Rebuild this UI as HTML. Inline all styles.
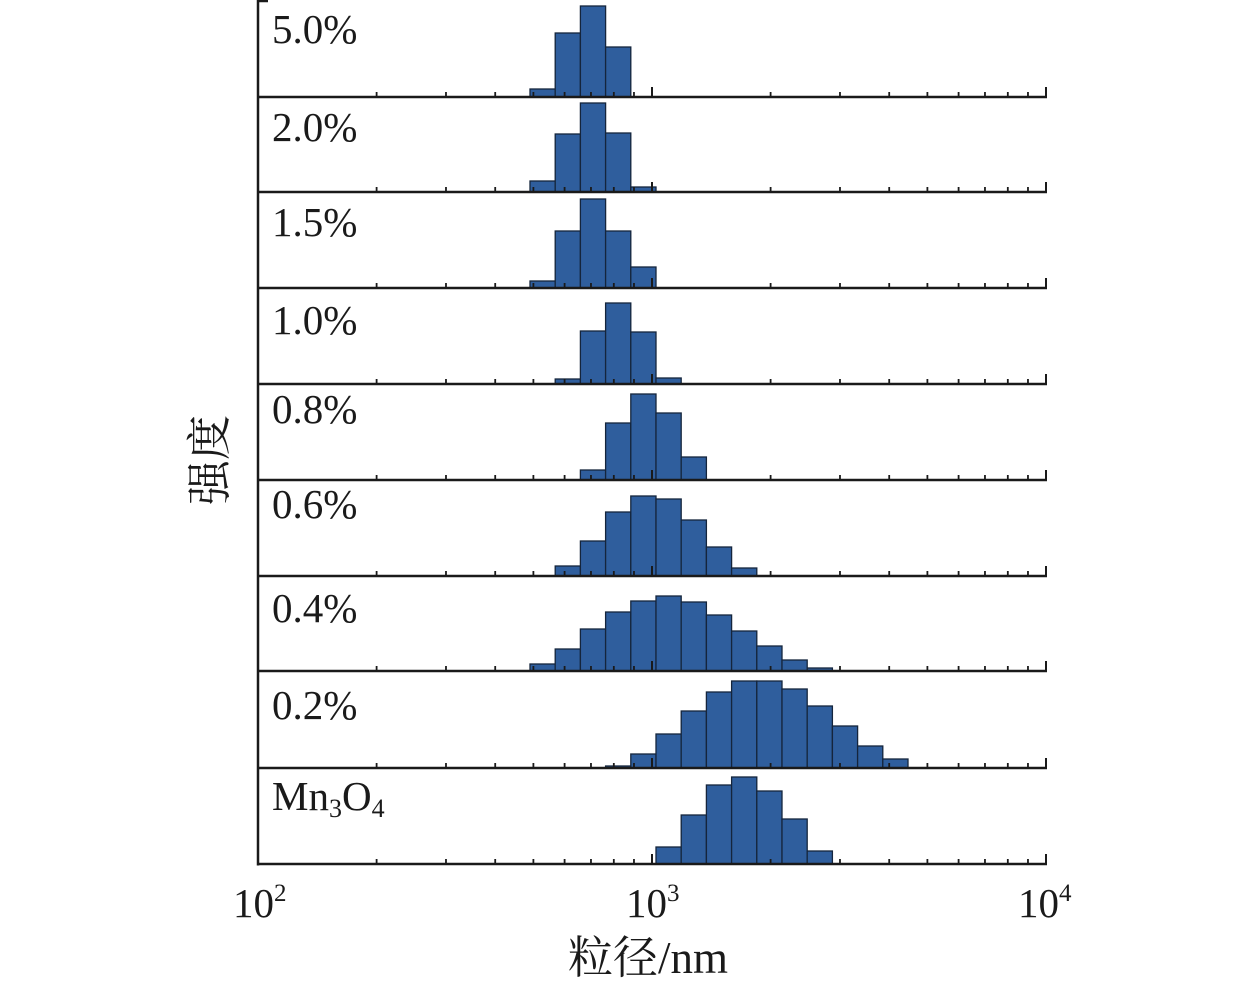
<!DOCTYPE html>
<html><head><meta charset="utf-8"><style>
html,body{margin:0;padding:0;background:#fff;}
svg{display:block;}
text{font-family:"Liberation Serif","Noto Serif CJK SC",serif;fill:#1a1a1a;}
</style></head><body>
<svg id="s" width="1259" height="987" viewBox="0 0 1259 987" xmlns="http://www.w3.org/2000/svg">
<g id="bars"></g>
<g id="axes" stroke="#1a1a1a" fill="none"></g>
<g id="labels" font-size="41"></g>
<text x="233" y="917" font-size="41">10<tspan font-size="25" dy="-16">2</tspan></text>
<text x="626" y="917" font-size="41">10<tspan font-size="25" dy="-16">3</tspan></text>
<text x="1018" y="917" font-size="41">10<tspan font-size="25" dy="-16">4</tspan></text>
<text x="568" y="973" font-size="45">粒径/nm</text>
<text transform="translate(225,460) rotate(-90)" text-anchor="middle" font-size="45">强度</text>
</svg>
<script>
var NS="http://www.w3.org/2000/svg";
function el(p,t,a){var e=document.createElementNS(NS,t);for(var k in a)e.setAttribute(k,a[k]);p.appendChild(e);return e;}
var base=[97,192,288,384,480,576,671,768,864];
var data=[
 {0:8,1:64,2:91,3:50},
 {0:11,1:58,2:89,3:59,4:5},
 {0:7,1:57,2:89,3:57,4:21},
 {1:5,2:53,3:81,4:52,5:6},
 {2:10,3:57,4:86,5:67,6:23},
 {1:10,2:35,3:64,4:80,5:77,6:56,7:29,8:8},
 {0:7,1:22,2:42,3:59,4:70,5:75,6:69,7:56,8:40,9:25,10:11,11:3},
 {3:2,4:14,5:34,6:57,7:76,8:87,9:87,10:79,11:62,12:42,13:22,14:9},
 {5:17,6:49,7:79,8:87,9:73,10:45,11:13}
];
var bars=document.getElementById("bars");
data.forEach(function(d,i){
 for(var k in d){var x0=530+25.2*k;var h=d[k];
  el(bars,"rect",{x:x0.toFixed(1),y:(base[i]-h).toFixed(1),width:"25.2",height:h,fill:"#2f5e9d",stroke:"#15253c","stroke-width":"1.3"});}
});
var ax=document.getElementById("axes");
el(ax,"line",{x1:258,y1:0,x2:258,y2:865.5,"stroke-width":2.5});
el(ax,"line",{x1:258,y1:1,x2:268,y2:1,"stroke-width":2.5});
base.forEach(function(b){
 el(ax,"line",{x1:257,y1:b,x2:1047,y2:b,"stroke-width":2.5});
 for(var dec=0;dec<2;dec++){for(var m=2;m<=9;m++){var x=258+394*(dec+Math.log10(m));
  el(ax,"line",{x1:x,y1:b,x2:x,y2:b-5,"stroke-width":1.8});}}
 el(ax,"line",{x1:652,y1:b,x2:652,y2:b-10,"stroke-width":2});
 el(ax,"line",{x1:1046,y1:b+1,x2:1046,y2:b-10,"stroke-width":2});
});
var lab=document.getElementById("labels");
var names=["5.0%","2.0%","1.5%","1.0%","0.8%","0.6%","0.4%","0.2%"];
var ys=[43,141,236,334,423,518,622,719];
names.forEach(function(n,i){var t=el(lab,"text",{x:272,y:ys[i]});t.textContent=n;});
var t=el(lab,"text",{x:272,y:810});t.textContent="Mn";
var s=el(t,"tspan",{"font-size":"26",dy:"7"});s.textContent="3";
var o=el(t,"tspan",{dy:"-7"});o.textContent="O";
var s2=el(t,"tspan",{"font-size":"26",dy:"7"});s2.textContent="4";
</script>
</body></html>
